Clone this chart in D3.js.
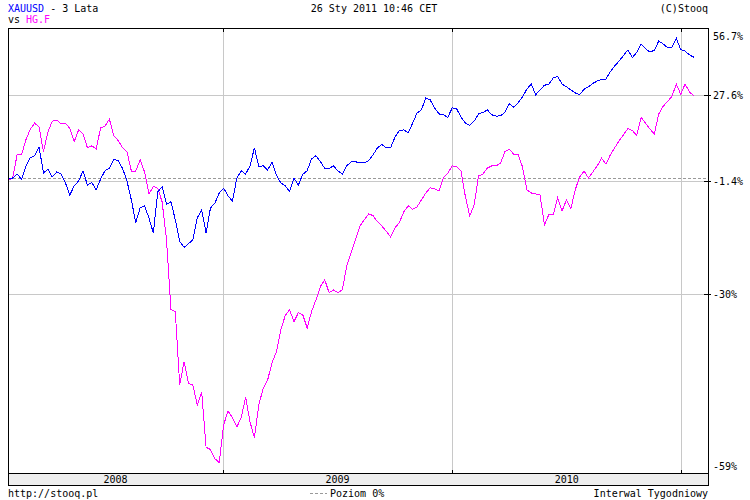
<!DOCTYPE html>
<html>
<head>
<meta charset="utf-8">
<script src="https://cdn.jsdelivr.net/npm/d3@7"></script>
<style>
  body { margin: 0; background: #fff; }
  text { font-family: "DejaVu Sans Mono", "Liberation Mono", monospace; font-size: 10px; }
</style>
</head>
<body>
<script>

// weekly closes, % change vs start
var startDate = new Date(2008, 0, 25);

var goldPct = [
  -0.9, -0.6, 0.6, -1.0, 2.9, 5.7, 6.3, 9.1, 0.9, 2.1,
  -0.3, 1.2, 0.6, -2.1, -5.6, -2.9, -1.5, 1.5, -2.7, -2.0,
  -4.1, -0.9, 1.6, 2.3, 5.2, 4.7, 2.3, -1.5, -7.0, -13.1,
  -9.2, -8.6, -11.9, -15.8, -4.7, -3.2, -8.2, -7.5, -12.4, -17.9,
  -19.4, -18.5, -17.5, -11.9, -9.7, -15.8, -9.2, -7.9, -5.0, -3.6,
  -5.8, -7.3, -0.6, 1.6, 0.6, 3.1, 8.9, 2.9, 3.1, 1.8,
  4.3, 0.3, -2.1, -2.9, -4.6, -0.6, -2.7, 0.5, 1.6, 5.3,
  6.3, 4.5, 2.3, 2.3, 3.1, 1.5, 0.6, 3.1, 4.3, 4.4,
  4.0, 4.0, 4.8, 6.6, 8.9, 10.0, 8.9, 8.9, 12.5, 14.7,
  14.9, 13.9, 17.3, 20.9, 22.1, 26.5, 25.8, 22.8, 20.6, 20.3,
  19.3, 22.8, 22.5, 19.5, 17.3, 16.5, 18.0, 20.6, 21.1, 22.1,
  20.3, 19.8, 19.9, 21.2, 24.3, 23.1, 24.7, 26.9, 30.0, 32.0,
  27.8, 29.7, 31.5, 31.9, 34.4, 35.0, 32.0, 30.9, 29.7, 28.5,
  27.8, 29.9, 30.9, 32.2, 33.2, 33.8, 34.0, 37.0, 39.4, 41.5,
  43.9, 46.3, 43.0, 45.2, 49.0, 46.8, 45.4, 46.1, 50.3, 49.0,
  47.3, 47.4, 51.5, 46.4, 45.8, 44.1, 43.1
];

var copperPct = [
  -1.2, -0.6, 6.6, 6.6, 11.5, 15.2, 17.3, 15.9, 7.6, 14.2,
  18.0, 18.4, 17.0, 17.2, 15.5, 10.9, 14.9, 13.5, 8.9, 9.5,
  8.5, 15.6, 16.3, 18.7, 12.9, 11.3, 8.9, 7.6, 1.5, 1.5,
  5.0, 1.2, -5.3, -3.1, -3.7, -7.5, -17.5, -33.2, -33.6, -46.8,
  -42.9, -46.5, -46.8, -49.9, -47.9, -55.9, -56.2, -57.4, -57.9, -52.8,
  -50.8, -51.8, -53.1, -51.8, -48.7, -52.4, -54.6, -49.9, -47.3, -46.0,
  -43.1, -41.2, -37.2, -34.4, -33.2, -35.6, -33.8, -34.2, -36.8, -33.6,
  -31.2, -28.4, -26.9, -29.7, -29.1, -29.7, -29.1, -23.8, -20.7, -17.5,
  -14.0, -12.4, -10.8, -11.3, -12.9, -14.0, -15.4, -16.8, -14.5, -13.1,
  -10.2, -8.6, -9.6, -8.9, -7.0, -5.0, -3.5, -3.8, -4.4, -0.6,
  0.8, 3.1, 2.8, 1.5, -6.0, -11.4, -8.4, 0.0, 0.6, 2.4,
  3.1, 3.1, 3.9, 7.6, 8.4, 6.8, 6.6, 2.8, -4.1, -5.0,
  -5.3, -5.6, -13.7, -11.0, -11.0, -6.4, -10.0, -7.0, -9.4, -4.1,
  -0.3, 1.5, -0.6, 1.2, 3.1, 5.5, 3.6, 6.6, 8.9, 11.3,
  13.3, 15.4, 14.7, 13.0, 19.3, 17.3, 15.2, 13.5, 20.6, 23.4,
  25.2, 27.1, 32.0, 28.0, 32.0, 28.9, 27.3
];

var seriesNames = ["XAUUSD", "HG.F"];
var seriesColors = ["#0000ff", "#ff00ff"];

var yTickLabels = [56.7, 27.6, -1.4, -30, -59];
var yGridValues = [27.6, -1.4, -30];

var width   = 750,
    height  = 500,
    plotL   = 8,
    plotR   = 708,
    plotT   = 28,
    plotB   = 473,
    band    = 12;

var svg = d3.select("body")
    .append("svg")
    .attr("width", width)
    .attr("height", height);

var x = d3.scaleTime()
    .domain([new Date(2008, 0, 24, 12), new Date(2011, 1, 12, 12)])
    .range([plotL, plotR]);

var y = d3.scaleLog()
    .domain([0.408, 1.563])
    .range([plotB, plotT]);

function toPoints(values) {
    return values.map((v, i) => ({
        date: d3.timeDay.offset(startDate, 7 * i),
        ratio: 1 + v / 100
    }));
}

function yPix(v) {
    return Math.round(y(1 + v / 100)) + 0.5;
}

// grid
var years = x.ticks(d3.timeYear);

svg.append("g")
    .selectAll("line")
    .data(years)
    .join("line")
    .attr("x1", d => Math.round(x(d)) + 0.5)
    .attr("x2", d => Math.round(x(d)) + 0.5)
    .attr("y1", plotT)
    .attr("y2", plotB)
    .style("stroke", "#c8c8c8");

svg.append("g")
    .selectAll("line")
    .data(yGridValues)
    .join("line")
    .attr("x1", plotL)
    .attr("x2", plotR)
    .attr("y1", yPix)
    .attr("y2", yPix)
    .style("stroke", "#c8c8c8");

// level of the starting point
var baseY = yPix(goldPct[0]) - 1;
svg.append("line")
    .attr("x1", plotL)
    .attr("x2", plotR)
    .attr("y1", baseY)
    .attr("y2", baseY)
    .style("stroke", "#999")
    .style("stroke-dasharray", "3,2");

// series
var line = d3.line()
    .x(d => x(d.date))
    .y(d => y(d.ratio));

svg.append("g")
    .selectAll("path")
    .data([copperPct, goldPct])
    .join("path")
    .attr("d", d => line(toPoints(d)))
    .attr("fill", "none")
    .attr("stroke", (d, i) => seriesColors[1 - i])
    .attr("stroke-width", 1)
    .style("shape-rendering", "crispEdges");

// frame + date band
svg.append("rect")
    .attr("x", plotL + 0.5)
    .attr("y", plotB + 0.5)
    .attr("width", plotR - plotL)
    .attr("height", band)
    .attr("fill", "#eeeeee")
    .attr("stroke", "#000");

svg.append("rect")
    .attr("x", plotL + 0.5)
    .attr("y", plotT + 0.5)
    .attr("width", plotR - plotL)
    .attr("height", plotB - plotT)
    .attr("fill", "none")
    .attr("stroke", "#000");

// year ticks on frame
svg.append("g")
    .selectAll("path")
    .data(years)
    .join("path")
    .attr("d", d => {
        var px = Math.round(x(d)) + 0.5;
        return "M" + px + "," + plotT + "V" + (plotT + 4) +
               "M" + px + "," + (plotB - 3) + "V" + plotB;
    })
    .style("stroke", "#000");

// right side ticks
svg.append("g")
    .selectAll("line")
    .data(yGridValues)
    .join("line")
    .attr("x1", plotR - 4)
    .attr("x2", plotR + 3)
    .attr("y1", yPix)
    .attr("y2", yPix)
    .style("stroke", "#000");

// year labels
var yearSpans = d3.timeYear.range(d3.timeYear.floor(x.domain()[0]), x.domain()[1])
    .map(d => ({
        year: d.getFullYear(),
        a: Math.max(plotL, x(d)),
        b: Math.min(plotR, x(d3.timeYear.offset(d, 1)))
    }))
    .filter(d => d.b - d.a > 40);

svg.append("g")
    .selectAll("text")
    .data(yearSpans)
    .join("text")
    .attr("x", d => (d.a + d.b) / 2)
    .attr("y", plotB + 10)
    .attr("text-anchor", "middle")
    .text(d => d.year);

// y labels
svg.append("g")
    .selectAll("text")
    .data(yTickLabels)
    .join("text")
    .attr("x", plotR + 5)
    .attr("y", d => Math.max(36, Math.min(466, y(1 + d / 100))) + 4)
    .text(d => d + "%");

// header
var h1 = svg.append("text").attr("x", plotL).attr("y", 12);
h1.append("tspan").attr("fill", seriesColors[0]).text(seriesNames[0]);
h1.append("tspan").attr("fill", "#000").text(" - 3 Lata");

var h2 = svg.append("text").attr("x", plotL).attr("y", 23);
h2.append("tspan").attr("fill", "#000").text("vs ");
h2.append("tspan").attr("fill", seriesColors[1]).text(seriesNames[1]);

svg.append("text")
    .attr("x", 374)
    .attr("y", 12)
    .attr("text-anchor", "middle")
    .text("26 Sty 2011 10:46 CET");

svg.append("text")
    .attr("x", plotR)
    .attr("y", 12)
    .attr("text-anchor", "end")
    .text("(C)Stooq");

// footer
svg.append("text")
    .attr("x", plotL)
    .attr("y", 497)
    .text("http://stooq.pl");

svg.append("line")
    .attr("x1", 310)
    .attr("x2", 327)
    .attr("y1", 493.5)
    .attr("y2", 493.5)
    .style("stroke", "#999")
    .style("stroke-dasharray", "3,2");

svg.append("text")
    .attr("x", 330)
    .attr("y", 497)
    .text("Poziom 0%");

svg.append("text")
    .attr("x", plotR)
    .attr("y", 497)
    .attr("text-anchor", "end")
    .text("Interwal Tygodniowy");

</script>
</body>
</html>
